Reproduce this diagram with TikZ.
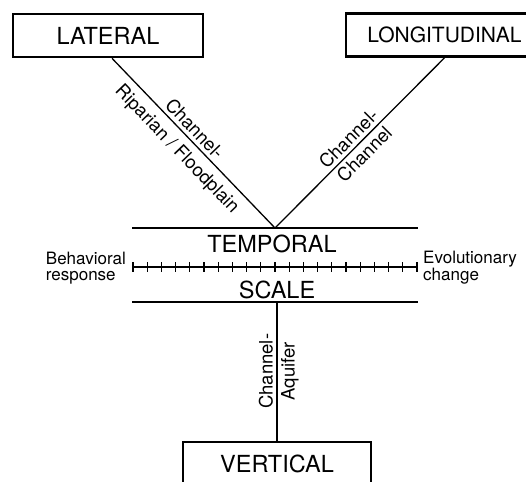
\documentclass[tikz,border=0pt]{standalone}
\usepackage{fontspec}
\setmainfont{TeX Gyre Heros}
\usetikzlibrary{calc}
\tikzset{
	dimbox/.style={draw, line width=2.6pt, minimum width=190pt, minimum height=43pt, inner sep=0pt, font=\fontsize{23.5}{25}\selectfont},
	bar/.style={line width=2.8pt},
	link/.style={line width=1.3pt},
	linklabel/.style={font=\fontsize{18.5}{20}\selectfont, sloped},
	endlabel/.style={font=\fontsize{17}{16}\selectfont, align=left, inner sep=0pt},
	scalelabel/.style={font=\fontsize{23.5}{25}\selectfont, inner sep=0pt}
}

\begin{document}
\begin{tikzpicture}[x=1pt, y=-1pt]
	%%%%% START %%%%%
	\useasboundingbox (0, 0) rectangle (526, 481);

	% dimensions
	\node[dimbox] (lateral) at (108, 35.5) {LATERAL};
	\node[dimbox, minimum width=197pt, font=\fontsize{21}{23}\selectfont] (longitudinal) at (444.5, 35) {LONGITUDINAL};
	\node[dimbox, minimum width=188pt] (vertical) at (277, 463.5) {VERTICAL};

	% temporal scale
	\coordinate (vee) at (275, 228);
	\coordinate (foot) at (277, 302);
	\coordinate (temporalL) at (132, 228);
	\coordinate (temporalR) at (418, 228);
	\coordinate (scaleL) at (132, 302);
	\coordinate (scaleR) at (418, 302);

	\draw[bar] (temporalL) -- (temporalR);
	\draw[bar] (scaleL) -- (scaleR);

	\node[scalelabel] (temporal) at (272, 244) {TEMPORAL};
	\node[scalelabel] (scale) at (277, 290) {SCALE};

	\coordinate (axisL) at (133, 267);
	\coordinate (axisR) at (417, 267);
	\draw[link] (axisL) -- (axisR);
	\foreach \i in {0,...,20}
		\draw[link] ($(axisL)+(14.2*\i, -5)$) -- ++(0, 10);

	\node[endlabel, anchor=east] (behavioral) at (126, 268) {Behavioral\\response};
	\node[endlabel, anchor=west] (evolutionary) at (423, 268) {Evolutionary\\change};

	% interactions
	\draw[link] ([xshift=4pt]lateral.south) -- (vee)
		node[linklabel, pos=0.46, above] {Channel-}
		node[linklabel, pos=0.47, below=4pt] {Riparian / Floodplain};
	\draw[link] (vee) -- (longitudinal.south)
		node[linklabel, pos=0.48, above] {Channel-}
		node[linklabel, pos=0.48, below] {Channel};
	\draw[link] (vertical.north) -- (foot)
		node[linklabel, pos=0.5, above] {Channel-}
		node[linklabel, pos=0.5, below] {Aquifer};
	%%%%% END %%%%%
\end{tikzpicture}
\end{document}
